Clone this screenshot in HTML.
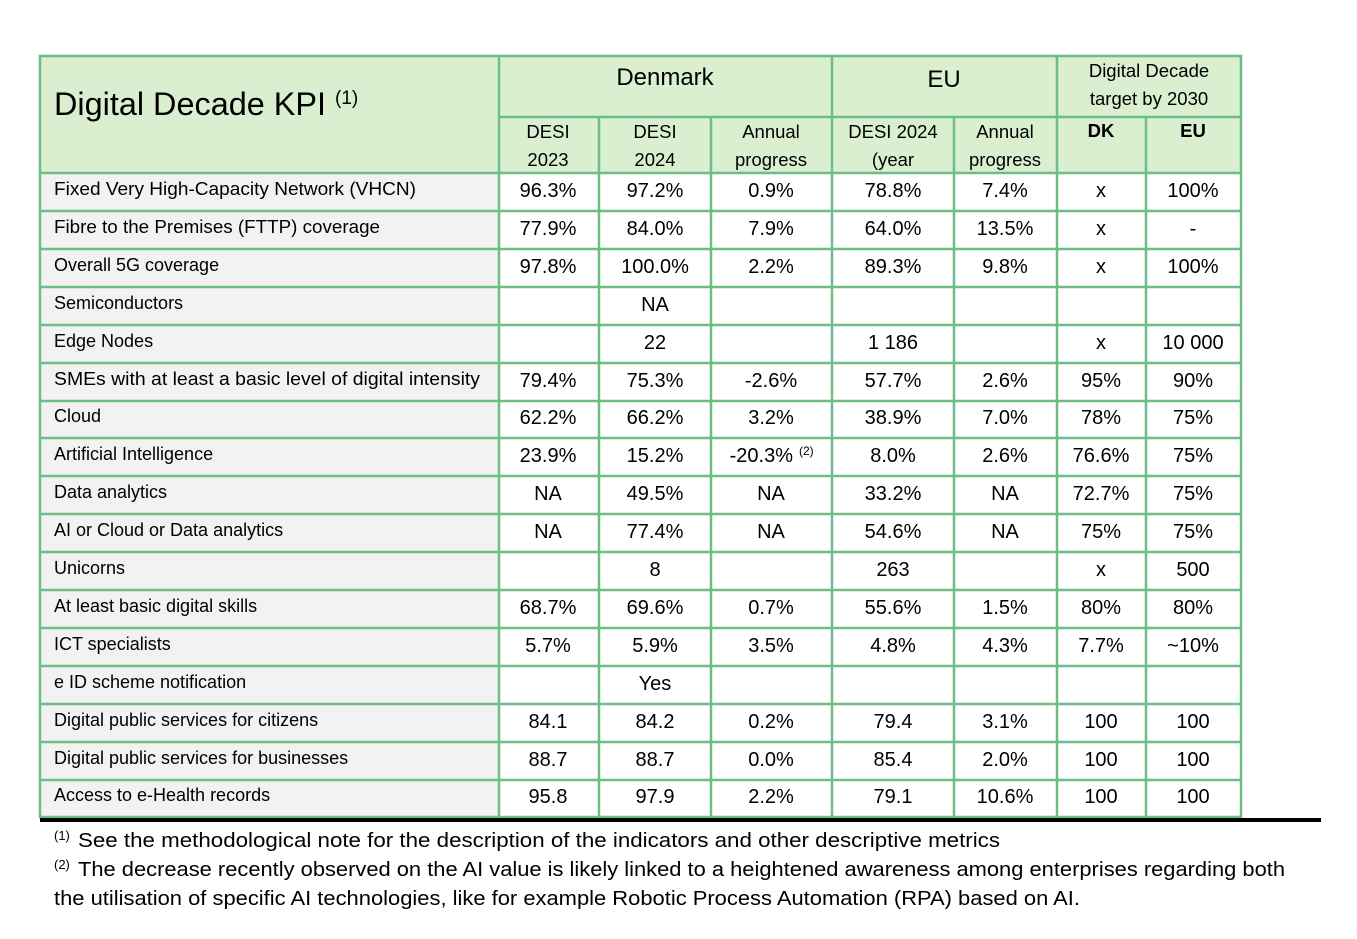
<!DOCTYPE html>
<html><head><meta charset="utf-8"><style>
html,body{margin:0;padding:0;background:#fff;width:1357px;height:939px;overflow:hidden}
svg{display:block;font-family:"Liberation Sans",sans-serif}
.l{font-size:18px}
.v{font-size:20px;text-anchor:middle}
.h{font-size:18.5px;text-anchor:middle}
.f{font-size:20px}
</style></head><body>
<svg width="1357" height="939" viewBox="0 0 1357 939">
<rect x="40" y="56" width="1201" height="117" fill="#d9efd0"/>
<rect x="40" y="173" width="459" height="644" fill="#f2f2f2"/>
<g stroke="#6fbd86" stroke-width="2.5" fill="none">
<rect x="40" y="56" width="1201" height="761"/>
<line x1="832" y1="56" x2="832" y2="817"/>
<line x1="1057" y1="56" x2="1057" y2="817"/>
<line x1="499" y1="56" x2="499" y2="817"/>
<line x1="599" y1="117" x2="599" y2="817"/>
<line x1="711" y1="117" x2="711" y2="817"/>
<line x1="954" y1="117" x2="954" y2="817"/>
<line x1="1146" y1="117" x2="1146" y2="817"/>
<line x1="499" y1="117" x2="1241" y2="117"/>
<line x1="40" y1="173" x2="1241" y2="173"/>
<line x1="40" y1="211" x2="1241" y2="211"/>
<line x1="40" y1="249" x2="1241" y2="249"/>
<line x1="40" y1="287" x2="1241" y2="287"/>
<line x1="40" y1="325" x2="1241" y2="325"/>
<line x1="40" y1="363" x2="1241" y2="363"/>
<line x1="40" y1="401" x2="1241" y2="401"/>
<line x1="40" y1="438" x2="1241" y2="438"/>
<line x1="40" y1="476" x2="1241" y2="476"/>
<line x1="40" y1="514" x2="1241" y2="514"/>
<line x1="40" y1="552" x2="1241" y2="552"/>
<line x1="40" y1="590" x2="1241" y2="590"/>
<line x1="40" y1="628" x2="1241" y2="628"/>
<line x1="40" y1="666" x2="1241" y2="666"/>
<line x1="40" y1="704" x2="1241" y2="704"/>
<line x1="40" y1="742" x2="1241" y2="742"/>
<line x1="40" y1="780" x2="1241" y2="780"/>
</g>
<text x="54" y="115" font-size="32" textLength="272" lengthAdjust="spacingAndGlyphs">Digital Decade KPI</text>
<text x="335" y="104" font-size="19">(1)</text>
<text x="665" y="85" font-size="24" text-anchor="middle">Denmark</text>
<text x="944" y="87" font-size="24" text-anchor="middle">EU</text>
<text x="1149" y="77" class="h">Digital Decade</text>
<text x="1149" y="105" class="h">target by 2030</text>
<text x="548" y="138" class="h">DESI</text><text x="548" y="166" class="h">2023</text>
<text x="655" y="138" class="h">DESI</text><text x="655" y="166" class="h">2024</text>
<text x="771" y="138" class="h">Annual</text><text x="771" y="166" class="h">progress</text>
<text x="893" y="138" class="h">DESI 2024</text><text x="893" y="166" class="h">(year</text>
<text x="1005" y="138" class="h">Annual</text><text x="1005" y="166" class="h">progress</text>
<text x="1101" y="137" class="h" font-weight="bold">DK</text>
<text x="1193" y="137" class="h" font-weight="bold">EU</text>
<g class="l">
<text class="l" x="54" y="195" textLength="362" lengthAdjust="spacingAndGlyphs">Fixed Very High-Capacity Network (VHCN)</text>
<text class="l" x="54" y="233" textLength="326" lengthAdjust="spacingAndGlyphs">Fibre to the Premises (FTTP) coverage</text>
<text class="l" x="54" y="271">Overall 5G coverage</text>
<text class="l" x="54" y="309">Semiconductors</text>
<text class="l" x="54" y="347">Edge Nodes</text>
<text class="l" x="54" y="385" textLength="426" lengthAdjust="spacingAndGlyphs">SMEs with at least a basic level of digital intensity</text>
<text class="l" x="54" y="422">Cloud</text>
<text class="l" x="54" y="460">Artificial Intelligence</text>
<text class="l" x="54" y="498">Data analytics</text>
<text class="l" x="54" y="536">AI or Cloud or Data analytics</text>
<text class="l" x="54" y="574">Unicorns</text>
<text class="l" x="54" y="612">At least basic digital skills</text>
<text class="l" x="54" y="650">ICT specialists</text>
<text class="l" x="54" y="688">e ID scheme notification</text>
<text class="l" x="54" y="726">Digital public services for citizens</text>
<text class="l" x="54" y="764">Digital public services for businesses</text>
<text class="l" x="54" y="801">Access to e-Health records</text>
</g>
<g class="v">
<text class="v" x="548" y="197">96.3%</text><text class="v" x="655" y="197">97.2%</text><text class="v" x="771" y="197">0.9%</text><text class="v" x="893" y="197">78.8%</text><text class="v" x="1005" y="197">7.4%</text><text class="v" x="1101" y="197">x</text><text class="v" x="1193" y="197">100%</text>
<text class="v" x="548" y="235">77.9%</text><text class="v" x="655" y="235">84.0%</text><text class="v" x="771" y="235">7.9%</text><text class="v" x="893" y="235">64.0%</text><text class="v" x="1005" y="235">13.5%</text><text class="v" x="1101" y="235">x</text><text class="v" x="1193" y="235">-</text>
<text class="v" x="548" y="273">97.8%</text><text class="v" x="655" y="273">100.0%</text><text class="v" x="771" y="273">2.2%</text><text class="v" x="893" y="273">89.3%</text><text class="v" x="1005" y="273">9.8%</text><text class="v" x="1101" y="273">x</text><text class="v" x="1193" y="273">100%</text>
<text class="v" x="655" y="311">NA</text>
<text class="v" x="655" y="349">22</text><text class="v" x="893" y="349">1 186</text><text class="v" x="1101" y="349">x</text><text class="v" x="1193" y="349">10 000</text>
<text class="v" x="548" y="387">79.4%</text><text class="v" x="655" y="387">75.3%</text><text class="v" x="771" y="387">-2.6%</text><text class="v" x="893" y="387">57.7%</text><text class="v" x="1005" y="387">2.6%</text><text class="v" x="1101" y="387">95%</text><text class="v" x="1193" y="387">90%</text>
<text class="v" x="548" y="424">62.2%</text><text class="v" x="655" y="424">66.2%</text><text class="v" x="771" y="424">3.2%</text><text class="v" x="893" y="424">38.9%</text><text class="v" x="1005" y="424">7.0%</text><text class="v" x="1101" y="424">78%</text><text class="v" x="1193" y="424">75%</text>
<text class="v" x="548" y="462">23.9%</text><text class="v" x="655" y="462">15.2%</text><text x="793" y="462" font-size="20" text-anchor="end" style="text-anchor:end">-20.3%</text><text x="799" y="455" font-size="12" style="text-anchor:start">(2)</text><text class="v" x="893" y="462">8.0%</text><text class="v" x="1005" y="462">2.6%</text><text class="v" x="1101" y="462">76.6%</text><text class="v" x="1193" y="462">75%</text>
<text class="v" x="548" y="500">NA</text><text class="v" x="655" y="500">49.5%</text><text class="v" x="771" y="500">NA</text><text class="v" x="893" y="500">33.2%</text><text class="v" x="1005" y="500">NA</text><text class="v" x="1101" y="500">72.7%</text><text class="v" x="1193" y="500">75%</text>
<text class="v" x="548" y="538">NA</text><text class="v" x="655" y="538">77.4%</text><text class="v" x="771" y="538">NA</text><text class="v" x="893" y="538">54.6%</text><text class="v" x="1005" y="538">NA</text><text class="v" x="1101" y="538">75%</text><text class="v" x="1193" y="538">75%</text>
<text class="v" x="655" y="576">8</text><text class="v" x="893" y="576">263</text><text class="v" x="1101" y="576">x</text><text class="v" x="1193" y="576">500</text>
<text class="v" x="548" y="614">68.7%</text><text class="v" x="655" y="614">69.6%</text><text class="v" x="771" y="614">0.7%</text><text class="v" x="893" y="614">55.6%</text><text class="v" x="1005" y="614">1.5%</text><text class="v" x="1101" y="614">80%</text><text class="v" x="1193" y="614">80%</text>
<text class="v" x="548" y="652">5.7%</text><text class="v" x="655" y="652">5.9%</text><text class="v" x="771" y="652">3.5%</text><text class="v" x="893" y="652">4.8%</text><text class="v" x="1005" y="652">4.3%</text><text class="v" x="1101" y="652">7.7%</text><text class="v" x="1193" y="652">~10%</text>
<text class="v" x="655" y="690">Yes</text>
<text class="v" x="548" y="728">84.1</text><text class="v" x="655" y="728">84.2</text><text class="v" x="771" y="728">0.2%</text><text class="v" x="893" y="728">79.4</text><text class="v" x="1005" y="728">3.1%</text><text class="v" x="1101" y="728">100</text><text class="v" x="1193" y="728">100</text>
<text class="v" x="548" y="766">88.7</text><text class="v" x="655" y="766">88.7</text><text class="v" x="771" y="766">0.0%</text><text class="v" x="893" y="766">85.4</text><text class="v" x="1005" y="766">2.0%</text><text class="v" x="1101" y="766">100</text><text class="v" x="1193" y="766">100</text>
<text class="v" x="548" y="803">95.8</text><text class="v" x="655" y="803">97.9</text><text class="v" x="771" y="803">2.2%</text><text class="v" x="893" y="803">79.1</text><text class="v" x="1005" y="803">10.6%</text><text class="v" x="1101" y="803">100</text><text class="v" x="1193" y="803">100</text>
</g>
<rect x="40" y="818" width="1281" height="4" fill="#000"/>
<text x="54" y="840" font-size="13">(1)</text>
<text class="f" x="78" y="847" textLength="922" lengthAdjust="spacingAndGlyphs">See the methodological note for the description of the indicators and other descriptive metrics</text>
<text x="54" y="869" font-size="13">(2)</text>
<text class="f" x="78" y="876" textLength="1207" lengthAdjust="spacingAndGlyphs">The decrease recently observed on the AI value is likely linked to a heightened awareness among enterprises regarding both</text>
<text class="f" x="54" y="905" textLength="1026" lengthAdjust="spacingAndGlyphs">the utilisation of specific AI technologies, like for example Robotic Process Automation (RPA) based on AI.</text>
</svg>
</body></html>
